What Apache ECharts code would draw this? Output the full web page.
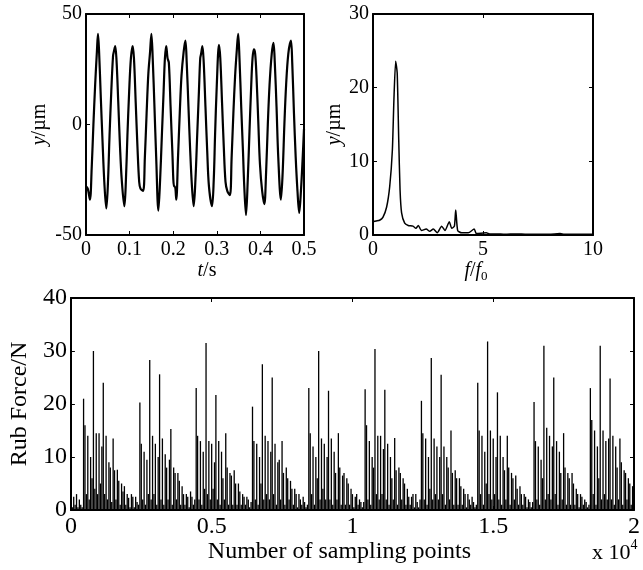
<!DOCTYPE html>
<html>
<head>
<meta charset="utf-8">
<script src="https://cdn.jsdelivr.net/npm/echarts@6/dist/echarts.min.js"></script>
<style>
html,body{margin:0;padding:0;background:#fff;}
#main{width:643px;height:570px;}
</style>
</head>
<body>
<div id="main"></div>
<script>
// 时域波形 t/s , y/um
var timeT=[0,0.004,0.009,0.013,0.017,0.021,0.025,0.0275,0.030,0.034,0.038,0.042,0.0466,0.050,0.054,0.058,0.062,0.064,0.067,0.070,0.074,0.078,0.082,0.088,0.091,0.095,0.099,0.103,0.107,0.110,0.114,0.118,0.122,0.125,0.131,0.135,0.139,0.143,0.147,0.150,0.153,0.157,0.161,0.166,0.170,0.174,0.178,0.181,0.184,0.187,0.190,0.194,0.198,0.202,0.204,0.207,0.211,0.215,0.219,0.224,0.228,0.231,0.235,0.239,0.243,0.247,0.251,0.255,0.259,0.262,0.264,0.267,0.270,0.274,0.278,0.282,0.289,0.293,0.296,0.300,0.305,0.308,0.312,0.316,0.320,0.324,0.330,0.334,0.338,0.342,0.346,0.349,0.352,0.356,0.360,0.363,0.367,0.371,0.375,0.379,0.382,0.385,0.388,0.391,0.395,0.399,0.404,0.409,0.413,0.417,0.421,0.426,0.430,0.433,0.437,0.441,0.447,0.451,0.455,0.459,0.464,0.470,0.473,0.477,0.481,0.485,0.489,0.493,0.497,0.500];
var timeY=[-28,-29,-34,-20,0,18,33,41,33,12,-8,-26,-38,-28,-5,15,31,33,35.5,29,10,-10,-25,-37,-28,-5,15,30,35.5,30,10,-10,-26,-29,-30,-15,5,23,33,41,30,8,-15,-39,-25,-5,15,30,35.5,30,28,8,-12,-28,-28,-34,-15,5,22,33,38,28,8,-12,-28,-37,-25,-5,15,30,32,35.5,28,8,-12,-28,-37,-25,-5,18,36,30,10,-10,-26,-30,-32,-15,5,22,34,41,30,8,-12,-28,-41,-25,-3,18,30,34,32,22,2,-18,-30,-36,-22,0,18,32,37,28,8,-15,-34,-22,0,18,32,38,28,5,-15,-30,-40,-30,-15,-2];

// 频谱 f/f0
var specF=[0,0.15,0.3,0.45,0.62,0.76,0.88,0.95,1.03,1.1,1.17,1.23,1.3,1.44,1.6,1.82,1.95,2.06,2.2,2.42,2.58,2.74,2.92,3.12,3.27,3.47,3.58,3.7,3.76,3.85,4.03,4.33,4.6,4.7,5.15,5.3,5.6,6.0,6.5,7.0,7.5,8.0,8.5,8.7,9.0,9.5,10];
var specAmp=[1.8,1.9,2.0,2.4,3.8,6.6,11.5,18.3,23.6,22,12.9,6.1,3,1.6,1.3,1.2,0.9,1.3,0.6,0.8,0.5,0.8,0.3,1.2,0.6,1.8,0.9,1.2,3.4,0.6,0.3,0.3,0.8,0.2,0.3,0.15,0.15,0.1,0.15,0.1,0.1,0.1,0.2,0.1,0.1,0.1,0.1];

// 碰摩力, 每50个采样点读一个值
var rubStep=50;
var rubHead=[3.5,0.5,2.5,1,3,0.5,2,1,0.5];
var rubBursts=[
 [21,16,3,14,2,10,6,30,4,14.5,3,14.5,5,12,24,3,14,2,9,8,1.5,13.5,7.5,2,7.6,5.5,1,5,3.5,4.5,1,3,2.3,0.5,3,2.5,0.5,2.5,1.5,1],
 [20.3,12.5,2,11,1,9.5,3,28.3,2,14,3,12.5,1,10,25.6,2,13.5,1,10.5,8,2,9.5,15.3,1,8,7,2,7,5.5,1,4.5,3,1,3,2.5,0.5,3.5,2.5,1,2],
 [23,14,2,13,1,11,4,31.5,3,13,2,12.5,4,9,21.7,2,13,1,11,6,2,14.5,8,1,7,6.5,1,7.5,5,1,5,3.5,1,3,2.5,1,2.5,2,0.5,1.5],
 [19.5,13,2,12.5,1,10,5,27.5,2,14,3,13,2,11,25,3,12.5,1,9,9.5,2,13,7,1,8,6,2,5.5,4,1,4,3,0.5,3,2,1,2.5,1.5,0.5,1],
 [23,14.5,3,12,1,10,6,30,2,13.5,4,12.5,2,10,22.5,2,13.5,1,11,7,2,14.5,8,1,6.5,7,1,6,5,1,4,3,0.5,2.5,3,1,2,1.5,0.5,1.5],
 [22.8,16,2,13,1,10,8,30.4,3,14,2,14,3,11.5,22.7,2,12.5,1,10,6,2,13.6,7.5,1,8,7,2,6,5,1,4,2.5,1,2.5,3,0.5,3,1.5,0.5,2],
 [20.6,14.5,2,13.5,1,10,4,28.7,2,13.5,3,12,2,10,25.5,3,12,1,10,8,2,15,7,1,7.5,6,1,6,4.5,1,4,3,0.5,3,2,1,2.5,1.5,0.5,1],
 [24,15,3,14,1,11,5,31.8,3,15,2,13.5,3,10,22.2,2,14,1,10,7.5,2,14,8,1,7,6,2,6.5,4,1,4.5,3,1,3,2.5,0.5,2,1.5,0.5,1.5],
 [20.4,13,2,12,1,9.5,6,31,2,15.5,3,14,2,12,25,3,13,1,11,7,2,14.5,8,1,7,6,1,7,5,1,4,3,0.5,3,2.5,1,2,1.5,0.5,1],
 [23,17,3,15,1,12,6,31,2,15,3,13,2,13.5,24.8,2,14,1,12,8,2,13.5,9,1,7.5,7,2,6,5,1,4.5,6]
];

var FONT='Liberation Serif';

function pairs(xs,ys){
  var out=[];
  for(var i=0;i<xs.length;i++) out.push([xs[i],ys[i]]);
  return out;
}

var rubVals=rubHead.slice();
for(var b=0;b<rubBursts.length;b++) rubVals=rubVals.concat(rubBursts[b]);
var rubData=[];
for(var i=0;i<rubVals.length;i++) rubData.push([i*rubStep,rubVals[i]]);

var lineS={color:'#000',width:2};
function xAx(grid,min,max,itv,fs,name,gap,pad,fmt){
  return [{
    gridIndex:grid,type:'value',min:min,max:max,interval:itv,position:'bottom',
    axisLine:{show:true,onZero:false,lineStyle:lineS},
    axisTick:{inside:true,length:4,lineStyle:{color:'#000'}},
    splitLine:{show:false},
    axisLabel:{color:'#000',fontFamily:FONT,fontSize:fs,margin:5,formatter:fmt},
    name:name,nameLocation:'middle',nameGap:gap,
    nameTextStyle:{color:'#000',fontFamily:FONT,fontSize:fs,padding:pad,
      rich:{i:{fontStyle:'italic',fontFamily:FONT,fontSize:fs,color:'#000'},
            n:{fontFamily:FONT,fontSize:fs,color:'#000'},
            s:{fontFamily:FONT,fontSize:13,color:'#000',padding:[12,0,0,0]}}}
  },{
    gridIndex:grid,type:'value',min:min,max:max,interval:itv,position:'top',
    axisLine:{show:true,onZero:false,lineStyle:lineS},
    axisTick:{inside:true,length:4,lineStyle:{color:'#000'}},
    splitLine:{show:false},axisLabel:{show:false}
  }];
}
function yAx(grid,min,max,itv,fs,name,gap){
  return [{
    gridIndex:grid,type:'value',min:min,max:max,interval:itv,position:'left',
    axisLine:{show:true,onZero:false,lineStyle:lineS},
    axisTick:{inside:true,length:4,lineStyle:{color:'#000'}},
    splitLine:{show:false},
    axisLabel:{color:'#000',fontFamily:FONT,fontSize:fs,margin:4},
    name:name,nameLocation:'middle',nameGap:gap,nameRotate:90,
    nameTextStyle:{color:'#000',fontFamily:FONT,fontSize:fs,
      rich:{i:{fontStyle:'italic',fontFamily:FONT,fontSize:fs,color:'#000'},
            n:{fontFamily:FONT,fontSize:fs,color:'#000'}}}
  },{
    gridIndex:grid,type:'value',min:min,max:max,interval:itv,position:'right',
    axisLine:{show:true,onZero:false,lineStyle:lineS},
    axisTick:{inside:true,length:4,lineStyle:{color:'#000'}},
    splitLine:{show:false},axisLabel:{show:false}
  }];
}

var chart=echarts.init(document.getElementById('main'));
var option={
  animation:false,
  backgroundColor:'#fff',
  grid:[
    {left:86,top:14,width:218,height:221},
    {left:373,top:14,width:220,height:221},
    {left:64,top:298,width:576,height:212}
  ],
  xAxis:[].concat(
    xAx(0,0,0.5,0.1,20,'{i|t}{n|/s}',24,[0,0,0,24]),
    xAx(1,0,10,5,20,'{i|f}{n|/}{i|f}{s|0}',22,[0,14,0,0]),
    xAx(2,0,20000,5000,24,'Number of sampling points',28,[0,26,0,0],function(v){return v/10000;})
  ),
  yAxis:[].concat(
    yAx(0,-50,50,50,20,'{i|y}{n|/µm}',36),
    yAx(1,0,30,10,20,'{i|y}{n|/µm}',28),
    yAx(2,0,40,10,24,'Rub Force/N',30)
  ),
  graphic:[{
    type:'text',left:592,top:538,
    style:{text:'{a|x 10}{b|4}',
      rich:{a:{fontFamily:FONT,fontSize:22,fill:'#000',padding:[6,0,0,0]},
            b:{fontFamily:FONT,fontSize:14,fill:'#000',padding:[0,0,10,0]}}}
  }],
  series:[
    {type:'line',xAxisIndex:0,yAxisIndex:0,data:pairs(timeT,timeY),smooth:0.35,
     showSymbol:false,lineStyle:{color:'#000',width:2.2}},
    {type:'line',xAxisIndex:2,yAxisIndex:2,data:pairs(specF,specAmp),smooth:0.2,
     showSymbol:false,lineStyle:{color:'#000',width:1.5}},
    {type:'bar',xAxisIndex:4,yAxisIndex:4,data:rubData,barWidth:1.3,
     itemStyle:{color:'#000'}}
  ]
};
chart.setOption(option);
</script>
</body>
</html>
